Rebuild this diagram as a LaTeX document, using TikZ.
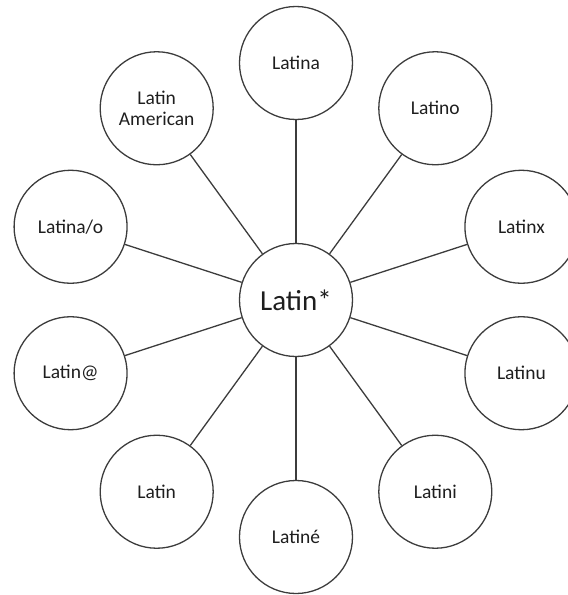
\documentclass[tikz,border=0pt]{standalone}
\usepackage{fontspec}
\setmainfont{Carlito}
\definecolor{rim}{RGB}{60,60,60}
\definecolor{ink}{RGB}{30,30,30}

\begin{document}
\begin{tikzpicture}[
    term/.style={circle, draw=rim, line width=1.3pt, minimum size=113pt, inner sep=0pt,
      align=center, text=ink, font=\fontsize{19.5}{21}\selectfont},
    hub/.style={term, font=\fontsize{29}{32}\selectfont},
    spoke/.style={draw=rim, line width=1.3pt}]
  \useasboundingbox (-296pt,-295pt) rectangle (272pt,300pt);

  % Central term
  \node[hub] (hub) at (0,0) {Latin*};

  % Surrounding terms, one every 36 degrees
  \foreach \ang/\id/\txt in {90/latina/Latina, 54/latino/Latino, 18/latinx/Latinx,
                             -18/latinu/Latinu, -54/latini/Latini, -90/latine/Latiné,
                             -126/latin/Latin, -162/latinat/Latin@, 162/latinao/{Latina/o},
                             126/latam/{Latin\\American}} {
    \node[term] (\id) at (\ang:237pt) {\txt};
    \draw[spoke] (hub) -- (\id);
  }

\end{tikzpicture}
\end{document}
